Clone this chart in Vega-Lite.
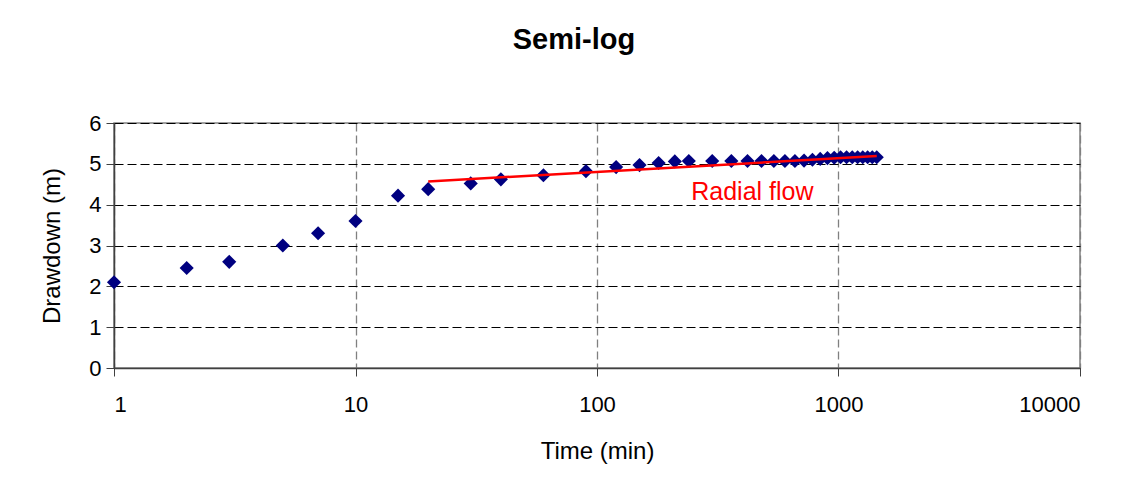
{
  "$schema": "https://vega.github.io/schema/vega-lite/v6.json",
  "width": 966,
  "height": 245,
  "autosize": "none",
  "padding": {"left": 114, "top": 123, "right": 52, "bottom": 129},
  "background": "white",
  "title": {"text": "Semi-log", "font": "Liberation Sans", "fontSize": 29, "fontWeight": "bold", "color": "black", "offset": 57, "dx": -23, "anchor": "middle"},
  "config": {
    "view": {"stroke": "#808080", "strokeWidth": 1.5},
    "axis": {"labelFont": "Liberation Sans", "titleFont": "Liberation Sans", "labelFontSize": 22, "titleFontSize": 24, "titleFontWeight": "normal", "labelColor": "black", "titleColor": "black"}
  },
  "datasets": {
    "pts": [
      {"t": 1, "s": 2.1}, {"t": 2, "s": 2.45}, {"t": 3, "s": 2.6}, {"t": 5, "s": 3.0}, {"t": 7, "s": 3.3},
      {"t": 10, "s": 3.6}, {"t": 15, "s": 4.22}, {"t": 20, "s": 4.38}, {"t": 30, "s": 4.52}, {"t": 40, "s": 4.62},
      {"t": 60, "s": 4.72}, {"t": 90, "s": 4.82}, {"t": 120, "s": 4.92}, {"t": 150, "s": 4.97}, {"t": 180, "s": 5.02},
      {"t": 210, "s": 5.06}, {"t": 240, "s": 5.07}, {"t": 300, "s": 5.07}, {"t": 360, "s": 5.07}, {"t": 420, "s": 5.07},
      {"t": 480, "s": 5.07}, {"t": 540, "s": 5.07}, {"t": 600, "s": 5.07}, {"t": 660, "s": 5.07}, {"t": 720, "s": 5.08},
      {"t": 780, "s": 5.1}, {"t": 840, "s": 5.12}, {"t": 900, "s": 5.14}, {"t": 960, "s": 5.15}, {"t": 1020, "s": 5.16},
      {"t": 1080, "s": 5.16}, {"t": 1140, "s": 5.16}, {"t": 1200, "s": 5.16}, {"t": 1260, "s": 5.16}, {"t": 1320, "s": 5.16},
      {"t": 1380, "s": 5.16}, {"t": 1440, "s": 5.16}
    ],
    "fit": [{"t": 20, "s": 4.57}, {"t": 1440, "s": 5.19}],
    "lbl": [{"t": 440, "s": 4.11, "label": "Radial flow"}]
  },
  "layer": [
    {
      "data": {"name": "pts"},
      "mark": {"type": "point", "shape": "diamond", "filled": true, "size": 200, "color": "#000080", "opacity": 1},
      "encoding": {
        "x": {"field": "t", "type": "quantitative", "scale": {"type": "log", "domain": [1, 10000], "nice": false},
          "axis": {"title": "Time (min)", "values": [1, 10, 100, 1000, 10000], "format": "d", "grid": true, "gridColor": "#808080", "gridDash": [8, 4], "gridWidth": 1.3, "domainColor": "#404040", "domainWidth": 1.5, "tickColor": "#404040", "tickSize": 8, "labelPadding": 18, "titlePadding": 24}},
        "y": {"field": "s", "type": "quantitative", "scale": {"domain": [0, 6], "nice": false},
          "axis": {"title": "Drawdown (m)", "values": [0, 1, 2, 3, 4, 5, 6], "grid": true, "gridColor": "black", "gridDash": [9, 4], "gridWidth": 1, "domainColor": "#404040", "domainWidth": 1.5, "tickColor": "#404040", "tickSize": 8, "labelPadding": 5, "titlePadding": 24}}
      }
    },
    {
      "data": {"name": "fit"},
      "mark": {"type": "line", "color": "#ff0000", "strokeWidth": 2.5},
      "encoding": {
        "x": {"field": "t", "type": "quantitative"},
        "y": {"field": "s", "type": "quantitative"}
      }
    },
    {
      "data": {"name": "lbl"},
      "mark": {"type": "text", "color": "#ff0000", "font": "Liberation Sans", "fontSize": 25, "align": "center", "baseline": "alphabetic"},
      "encoding": {
        "x": {"field": "t", "type": "quantitative"},
        "y": {"field": "s", "type": "quantitative"},
        "text": {"field": "label"}
      }
    }
  ]
}
